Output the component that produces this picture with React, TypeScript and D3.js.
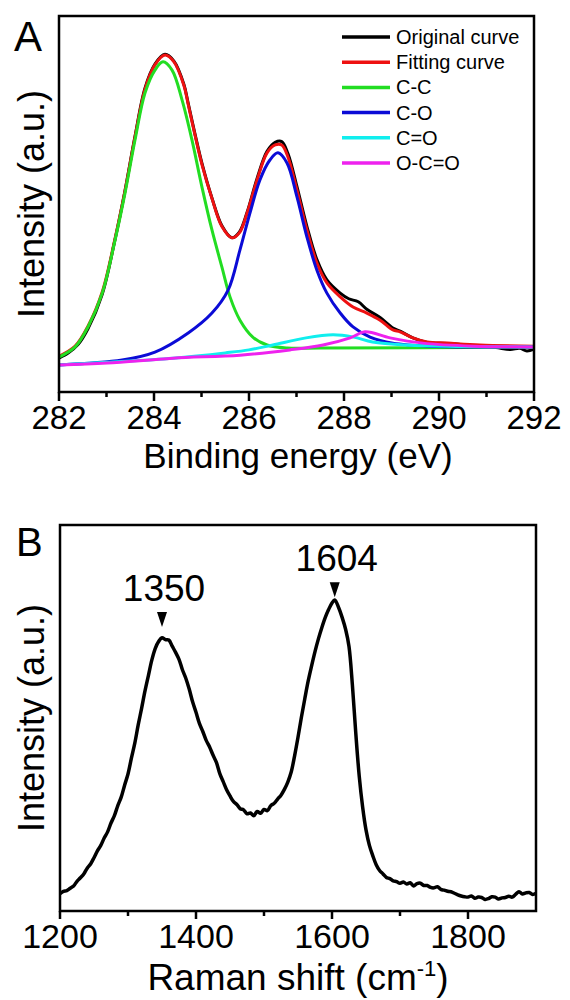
import React from "react";
import * as d3 from "d3";

// ---- panel A: XPS C1s (binding energy eV, intensity a.u.) ----
const xpsOriginal: [number, number][] = [
  [282.0, 9.0], [282.2, 10.4], [282.4, 12.6], [282.61, 16.8], [282.91, 26.0],
  [283.18, 40.6], [283.39, 53.6], [283.6, 68.0], [283.81, 80.8], [284.02, 87.2],
  [284.23, 89.8], [284.42, 88.0], [284.63, 81.8], [284.72, 76.8], [284.86, 68.8],
  [285.01, 60.8], [285.22, 51.6], [285.43, 44.2], [285.64, 41.0], [285.8, 42.6],
  [285.96, 47.8], [286.17, 56.8], [286.38, 64.0], [286.55, 66.4], [286.69, 66.6],
  [286.82, 63.4], [287.01, 54.6], [287.22, 44.0], [287.43, 35.2], [287.64, 29.8],
  [287.92, 26.3], [288.1, 24.8], [288.3, 24.0], [288.48, 22.0], [288.76, 19.8],
  [289.03, 17.0], [289.18, 16.2], [289.45, 14.4], [289.75, 13.2], [290.17, 12.9],
  [290.5, 12.6], [290.86, 12.2], [291.2, 11.8], [291.5, 11.3], [291.7, 11.6],
  [291.85, 10.9], [292.0, 11.4],
];
const xpsFitting: [number, number][] = [
  [282.0, 9.5], [282.34, 12.2], [282.61, 17.5], [282.91, 26.6], [283.18, 40.8],
  [283.39, 53.5], [283.6, 67.8], [283.81, 80.5], [284.02, 87.0], [284.23, 89.6],
  [284.42, 87.8], [284.63, 81.5], [284.72, 76.5], [284.86, 68.5], [285.01, 60.5],
  [285.22, 51.5], [285.43, 44.0], [285.64, 41.0], [285.8, 42.4], [285.96, 47.6],
  [286.17, 56.4], [286.38, 63.6], [286.55, 65.7], [286.69, 65.7], [286.82, 62.5],
  [287.01, 53.7], [287.22, 43.1], [287.43, 34.3], [287.64, 29.0], [287.92, 25.3],
  [288.19, 22.6], [288.48, 21.0], [288.76, 19.1], [289.03, 16.5], [289.18, 16.0],
  [289.45, 14.4], [289.75, 13.3], [290.17, 13.0], [290.86, 12.5], [292.0, 12.2],
];
const xpsCC: [number, number][] = [
  [282.0, 9.3], [282.34, 12.0], [282.61, 17.3], [282.91, 26.3], [283.18, 40.4],
  [283.39, 52.9], [283.6, 67.0], [283.81, 79.5], [284.02, 85.6], [284.19, 87.8],
  [284.38, 85.6], [284.59, 77.7], [284.8, 67.0], [285.01, 54.5], [285.22, 43.1],
  [285.43, 33.2], [285.6, 25.3], [285.81, 19.1], [286.08, 14.6], [286.38, 12.5],
  [286.8, 11.7], [287.5, 11.7], [292.0, 11.9],
];
const xpsCO: [number, number][] = [
  [282.0, 7.2], [283.33, 8.5], [284.02, 10.6], [284.72, 15.7], [285.22, 21.0],
  [285.56, 27.1], [285.81, 37.8], [286.02, 47.6], [286.23, 56.4], [286.44, 61.7],
  [286.61, 63.6], [286.8, 60.9], [287.01, 51.9], [287.22, 41.2], [287.43, 32.4],
  [287.64, 26.3], [287.92, 21.0], [288.19, 17.3], [288.55, 14.6], [289.03, 13.0],
  [289.81, 12.2], [292.0, 12.0],
];
const xpsCdO: [number, number][] = [
  [282.0, 7.2], [283.01, 7.9], [284.4, 9.0], [285.5, 10.4], [286.0, 11.2],
  [286.5, 12.5], [287.2, 14.4], [287.77, 15.2], [288.2, 14.6], [288.6, 13.3],
  [289.3, 12.5], [290.5, 12.1], [292.0, 12.0],
];
const xpsOCO: [number, number][] = [
  [282.0, 7.2], [283.01, 7.7], [284.4, 9.0], [285.81, 9.8], [286.86, 11.2],
  [287.56, 12.5], [288.13, 14.4], [288.44, 16.0], [288.97, 14.4], [289.66, 13.0],
  [290.72, 12.2], [292.0, 12.0],
];
const legendNames = ["Original curve", "Fitting curve", "C-C", "C-O", "C=O", "O-C=O"];
const seriesColors = ["#000000", "#ee1111", "#22dd22", "#0b0bd6", "#10eeee", "#ee22ee"];
const xpsTicks = [282, 284, 286, 288, 290, 292];
const xpsMinor = [283, 285, 287, 289, 291];

// ---- panel B: Raman spectrum ----
const raman: [number, number][] = [
  [1200, 4.5], [1205, 5.1], [1210, 5.3], [1215, 5.9], [1220, 6.5], [1225, 7.7],
  [1230, 8.6], [1235, 9.6], [1240, 11.1], [1245, 12.2], [1250, 13.8], [1255, 15.6],
  [1260, 17.0], [1265, 18.9], [1270, 20.5], [1275, 22.8], [1280, 24.7], [1285, 27.3],
  [1290, 29.5], [1295, 32.6], [1300, 35.5], [1305, 39.6], [1310, 43.5], [1315, 48.2],
  [1320, 52.5], [1325, 57.0], [1330, 61.0], [1335, 65.0], [1340, 68.0], [1345, 69.8],
  [1350, 70.8], [1355, 70.3], [1360, 70.2], [1365, 68.6], [1370, 67.0], [1375, 65.2],
  [1380, 62.5], [1385, 60.3], [1390, 57.5], [1395, 54.2], [1400, 51.5], [1405, 48.6],
  [1410, 46.5], [1415, 44.2], [1420, 42.5], [1425, 40.4], [1430, 38.5], [1435, 35.6],
  [1440, 33.5], [1445, 31.4], [1450, 29.8], [1455, 28.4], [1460, 27.6], [1465, 26.5],
  [1470, 26.2], [1475, 25.2], [1480, 25.4], [1485, 24.7], [1490, 25.8], [1495, 25.3],
  [1500, 26.3], [1505, 26.0], [1510, 27.3], [1515, 27.9], [1520, 29.0], [1525, 30.0],
  [1530, 31.5], [1535, 33.4], [1540, 36.0], [1545, 40.2], [1550, 45.0], [1555, 50.2],
  [1560, 55.0], [1565, 59.6], [1570, 63.5], [1575, 67.2], [1580, 70.5], [1585, 73.4],
  [1590, 76.0], [1595, 78.1], [1600, 79.8], [1604, 80.6], [1610, 78.5], [1615, 76.0],
  [1620, 73.0], [1625, 68.5], [1630, 58.5], [1635, 46.0], [1640, 35.0], [1645, 27.0],
  [1650, 21.0], [1655, 17.0], [1660, 14.3], [1665, 12.0], [1670, 10.5], [1675, 9.6],
  [1680, 8.7], [1685, 8.4], [1690, 7.8], [1695, 7.6], [1700, 7.2], [1705, 7.5],
  [1710, 7.0], [1715, 7.3], [1720, 6.5], [1725, 7.1], [1730, 7.2], [1735, 6.6],
  [1740, 6.6], [1745, 6.1], [1750, 6.0], [1755, 6.3], [1760, 5.6], [1765, 5.4],
  [1770, 5.1], [1775, 5.0], [1780, 4.6], [1785, 4.2], [1790, 3.9], [1795, 3.7],
  [1800, 3.6], [1805, 3.9], [1810, 3.3], [1815, 3.6], [1820, 3.5], [1825, 3.0],
  [1830, 3.2], [1835, 3.7], [1840, 3.6], [1845, 3.1], [1850, 3.4], [1855, 3.5],
  [1860, 3.8], [1865, 3.6], [1870, 4.3], [1875, 5.0], [1880, 4.4], [1885, 4.7],
  [1890, 4.8], [1895, 4.3], [1900, 4.6],
];
// mark = intensity at the tip of the marker triangle
const ramanPeaks = [
  { pos: 1350, mark: 73.6, label: "1350" },
  { pos: 1604, mark: 81.3, label: "1604" },
];
const ramanTicks = [1200, 1400, 1600, 1800];
const ramanMinor = [1300, 1500, 1700];

const FONT = "'Liberation Sans', Arial, sans-serif";

export default function App() {
  // panel A scales
  const xA = d3.scaleLinear().domain([282, 292]).range([59, 534]);
  const yA = d3.scaleLinear().domain([0, 100]).range([392, 16]);
  const lineA = d3
    .line<[number, number]>()
    .x((d) => xA(d[0]))
    .y((d) => yA(d[1]))
    .curve(d3.curveCatmullRom.alpha(0.5));
  const xpsSeries = [xpsOriginal, xpsFitting, xpsCC, xpsCO, xpsCdO, xpsOCO];

  // panel B scales
  const xB = d3.scaleLinear().domain([1200, 1900]).range([60, 536]);
  const yB = d3.scaleLinear().domain([0, 100]).range([911, 525]);
  const lineB = d3
    .line<[number, number]>()
    .x((d) => xB(d[0]))
    .y((d) => yB(d[1]))
    .curve(d3.curveCatmullRom.alpha(0.5));

  return (
    <svg
      width={570}
      height={1000}
      style={{ position: "absolute", left: 0, top: 0, background: "#fff" }}
      fontFamily={FONT}
    >
      <rect x={0} y={0} width={570} height={1000} fill="#fff" />

      {/* ---------- Panel A ---------- */}
      <text x={14} y={51} fontSize={42}>A</text>
      {xpsSeries.map((s, i) => (
        <path key={i} d={lineA(s) || ""} fill="none" stroke={seriesColors[i]} strokeWidth={3} strokeLinejoin="round" />
      ))}
      <rect x={59} y={16} width={475} height={376} fill="none" stroke="#000" strokeWidth={2.5} />
      {xpsTicks.map((t) => (
        <g key={t}>
          <line x1={xA(t)} x2={xA(t)} y1={392} y2={401} stroke="#000" strokeWidth={2.5} />
          <text x={xA(t)} y={429} fontSize={33} textAnchor="middle">{t}</text>
        </g>
      ))}
      {xpsMinor.map((t) => (
        <line key={t} x1={xA(t)} x2={xA(t)} y1={392} y2={397} stroke="#000" strokeWidth={2.5} />
      ))}
      <text x={298} y={468} fontSize={35} textAnchor="middle">Binding energy (eV)</text>
      <text transform="translate(44,204) rotate(-90)" fontSize={36} textAnchor="middle">Intensity (a.u.)</text>
      {legendNames.map((n, i) => (
        <g key={n} transform={`translate(0,${37 + i * 25.2})`}>
          <line x1={342} x2={390} y1={0} y2={0} stroke={seriesColors[i]} strokeWidth={3.5} />
          <text x={396} y={0} dy="0.35em" fontSize={20}>{n}</text>
        </g>
      ))}

      {/* ---------- Panel B ---------- */}
      <text x={16} y={556} fontSize={40}>B</text>
      <path d={lineB(raman) || ""} fill="none" stroke="#000" strokeWidth={3.5} strokeLinejoin="round" />
      <rect x={60} y={525} width={476} height={386} fill="none" stroke="#000" strokeWidth={2.5} />
      {ramanTicks.map((t) => (
        <g key={t}>
          <line x1={xB(t)} x2={xB(t)} y1={911} y2={919} stroke="#000" strokeWidth={2.5} />
          <text x={xB(t)} y={948} fontSize={34} textAnchor="middle">{t}</text>
        </g>
      ))}
      {ramanMinor.map((t) => (
        <line key={t} x1={xB(t)} x2={xB(t)} y1={911} y2={916} stroke="#000" strokeWidth={2.5} />
      ))}
      {ramanPeaks.map((p) => {
        const px = xB(p.pos);
        const py = yB(p.mark);
        return (
          <g key={p.label}>
            <path d={`M${px - 5},${py - 15}L${px + 5},${py - 15}L${px},${py}Z`} fill="#000" />
            <text x={px + 2} y={py - 26} fontSize={37} textAnchor="middle">{p.label}</text>
          </g>
        );
      })}
      <text x={298} y={990} fontSize={37} textAnchor="middle">
        Raman shift (cm<tspan dy={-14} fontSize={22}>-1</tspan><tspan dy={14}>)</tspan>
      </text>
      <text transform="translate(44,718) rotate(-90)" fontSize={36} textAnchor="middle">Intensity (a.u.)</text>
    </svg>
  );
}
